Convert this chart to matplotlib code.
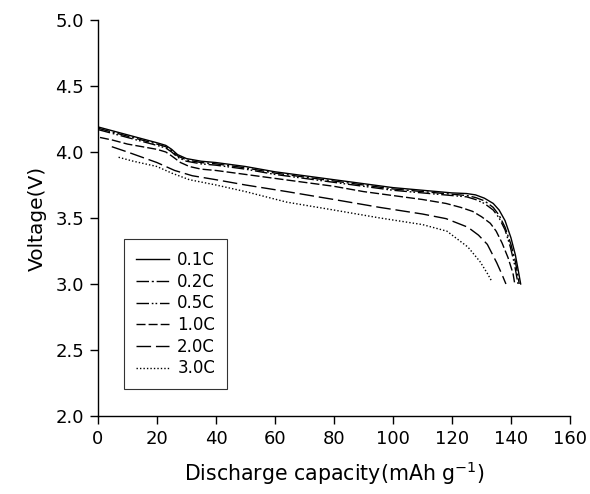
import matplotlib.pyplot as plt

# discharge curves
cap_01 = [0, 5, 10, 15, 20, 23, 25, 27, 30, 35, 40, 50, 60, 70, 80, 90, 100, 110, 120, 125, 128, 131, 134, 136, 138, 140, 141.5, 142.5, 143.3]
v_01 = [4.19, 4.16, 4.13, 4.10, 4.07, 4.05, 4.02, 3.98, 3.95, 3.93, 3.92, 3.89, 3.85, 3.82, 3.79, 3.76, 3.73, 3.71, 3.69, 3.685, 3.675, 3.65, 3.61, 3.56, 3.48, 3.35, 3.22, 3.10, 3.00]

cap_02 = [0, 5, 10, 15, 20, 23, 25, 27, 30, 35, 40, 50, 60, 70, 80, 90, 100, 110, 120, 125, 128, 131, 134, 136, 138, 140, 141.5, 142.3, 142.8]
v_02 = [4.18, 4.15, 4.12, 4.09, 4.06, 4.04, 4.01, 3.97, 3.94, 3.92, 3.91, 3.88, 3.84, 3.81, 3.78, 3.75, 3.72, 3.70, 3.68, 3.67, 3.655, 3.63, 3.58, 3.52, 3.43, 3.30, 3.17, 3.07, 3.00]

cap_05 = [0, 5, 10, 15, 20, 23, 25, 27, 30, 35, 40, 50, 60, 70, 80, 90, 100, 110, 120, 125, 128, 131, 134, 136, 138, 139.8, 141.2, 142.0, 142.4]
v_05 = [4.17, 4.14, 4.11, 4.08, 4.05, 4.03, 4.00, 3.96, 3.93, 3.91, 3.90, 3.87, 3.83, 3.80, 3.77, 3.74, 3.71, 3.69, 3.67, 3.66, 3.64, 3.61, 3.56, 3.50, 3.41, 3.28, 3.15, 3.05, 3.00]

cap_10 = [0.7, 5, 10, 15, 20, 23, 25, 28, 31, 35, 40, 50, 60, 70, 80, 90, 100, 110, 118, 123, 127, 130, 133, 135, 137, 139, 140.7, 141.3]
v_10 = [4.11, 4.09, 4.06, 4.04, 4.02, 4.00, 3.97, 3.92, 3.89, 3.87, 3.86, 3.83, 3.80, 3.77, 3.74, 3.70, 3.67, 3.64, 3.61, 3.58, 3.55, 3.51, 3.46, 3.40, 3.31, 3.20, 3.08, 3.00]

cap_20 = [4.7, 10, 15, 20, 23, 26, 29, 32, 40, 50, 64, 80, 95.6, 110, 118, 125.4, 129, 132, 135.2, 137, 138.3]
v_20 = [4.04, 4.00, 3.96, 3.92, 3.89, 3.86, 3.84, 3.82, 3.79, 3.75, 3.70, 3.64, 3.58, 3.53, 3.495, 3.43, 3.37, 3.30, 3.16, 3.07, 3.00]

cap_30 = [7, 12, 20, 25, 31, 40, 50, 64, 80, 95.6, 110, 118.3, 125.4, 129.5, 132, 133.5]
v_30 = [3.96, 3.93, 3.89, 3.84, 3.79, 3.75, 3.70, 3.62, 3.56, 3.50, 3.45, 3.40, 3.28, 3.17, 3.08, 3.02]

labels = ['0.1C', '0.2C', '0.5C', '1.0C', '2.0C', '3.0C']

fig = plt.figure(figsize=(5.9, 4.94), dpi=100)
ax = fig.add_axes([0.166, 0.158, 0.8, 0.8015])

lw = 1.0
ax.plot(cap_01, v_01, color='black', lw=lw, ls='-', label=labels[0])
ax.plot(cap_02, v_02, color='black', lw=lw, ls=(0, (9, 2, 1.5, 2)), label=labels[1])
ax.plot(cap_05, v_05, color='black', lw=lw, ls=(0, (9, 2, 1.2, 1.5, 1.2, 2)), label=labels[2])
ax.plot(cap_10, v_10, color='black', lw=lw, ls=(0, (6.5, 2.2)), label=labels[3])
ax.plot(cap_20, v_20, color='black', lw=lw, ls=(0, (10.5, 3.5)), label=labels[4])
ax.plot(cap_30, v_30, color='black', lw=lw, ls=(0, (1, 1.5)), label=labels[5])

ax.set_xlim(0, 160)
ax.set_ylim(2.0, 5.0)
ax.set_xticks(range(0, 161, 20))
ax.set_yticks([2.0, 2.5, 3.0, 3.5, 4.0, 4.5, 5.0])
ax.set_yticklabels(['2.0', '2.5', '3.0', '3.5', '4.0', '4.5', '5.0'])

for s in ['top', 'right']:
    ax.spines[s].set_visible(False)
ax.spines['left'].set_linewidth(1.0)
ax.spines['bottom'].set_linewidth(1.0)
ax.tick_params(direction='out', length=6, width=1.0, labelsize=13, pad=4)

ax.set_xlabel('Discharge capacity(mAh g$^{-1}$)', fontsize=14.8, labelpad=8)
ax.set_ylabel('Voltage(V)', fontsize=14.5, labelpad=6)

leg = ax.legend(loc='lower left', bbox_to_anchor=(0.055, 0.068), fontsize=12,
                frameon=True, fancybox=False, handlelength=2.0, handletextpad=0.5,
                labelspacing=0.22, borderpad=0.7, borderaxespad=0)
leg.get_frame().set_edgecolor('black')
leg.get_frame().set_linewidth(0.8)

fig.savefig('out.png', dpi=100)
